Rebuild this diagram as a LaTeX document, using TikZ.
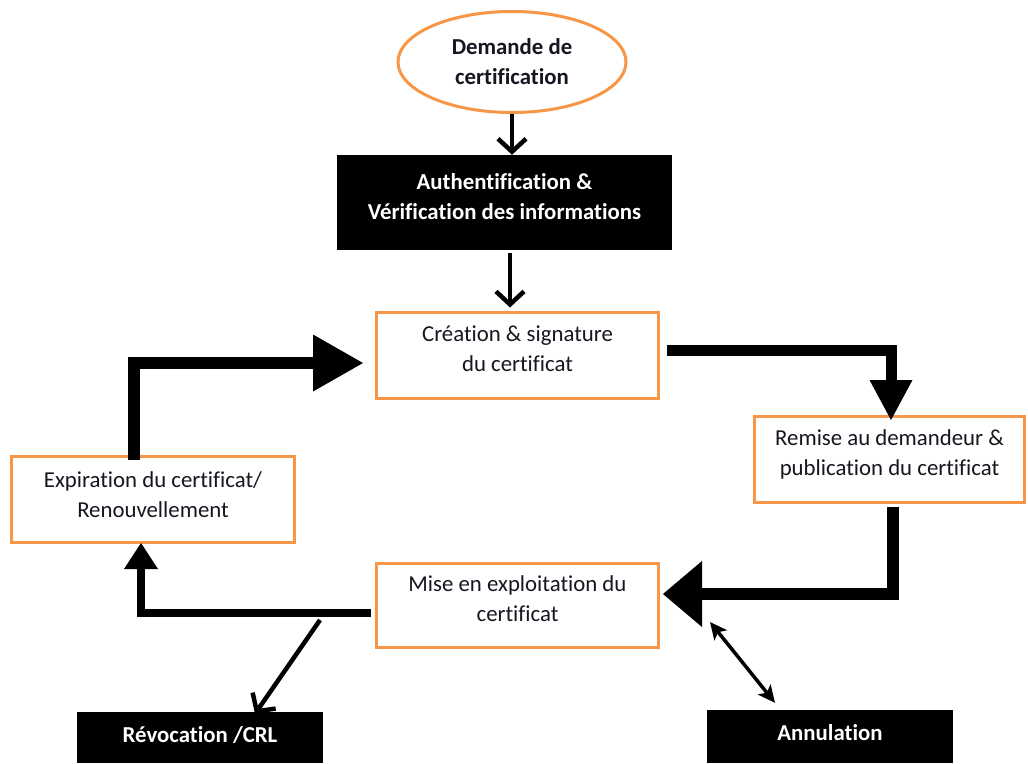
\documentclass[tikz,border=0pt]{standalone}
\usepackage{fontspec}
\setmainfont{Carlito}[Ligatures=NoCommon]
\usetikzlibrary{arrows.meta,shapes.geometric}
\definecolor{boxorange}{HTML}{F79646}
\definecolor{inktext}{HTML}{161620}
\begin{document}
\begin{tikzpicture}[x=1pt,y=-1pt,
  obox/.style={draw=boxorange,line width=3pt,fill=white,inner sep=0pt},
  bbox/.style={fill=black,inner sep=0pt},
  txt/.style={align=center,inner sep=0pt,text=inktext,font=\fontsize{22.8}{30}\selectfont},
  wtxt/.style={align=center,inner sep=0pt,text=white,font=\fontsize{22.8}{30}\selectfont\bfseries},
  btxt/.style={align=center,inner sep=0pt,text=inktext,font=\fontsize{22.8}{30}\selectfont\bfseries},
  thin/.style={line width=4.5pt,-{Straight Barb[length=13pt,width=28pt]}},
  bigflow/.style={line width=12pt,-{Triangle[length=50pt,width=57pt,line width=0pt]}},
  midflow/.style={line width=11pt,-{Triangle[length=40pt,width=43pt,line width=0pt]}},
  wideflow/.style={line width=12pt,-{Triangle[length=39pt,width=66pt,line width=0pt]}},
  smallflow/.style={line width=8pt,-{Triangle[length=26pt,width=34pt,line width=0pt]}},
  both/.style={line width=3.5pt,{Stealth[length=17pt,width=16pt,inset=4pt]}-{Stealth[length=17pt,width=16pt,inset=4pt]}}
]
\useasboundingbox (0,0) rectangle (1028,763);

% boxes
\node[ellipse,draw=boxorange,line width=3pt,inner sep=0pt,minimum width=228pt,minimum height=101pt] (dem) at (512,62) {};
\node[btxt] (demT) at (dem.center) {Demande de\\certification};

\node[bbox,minimum width=335pt,minimum height=95pt] (auth) at (504.5,202.5) {};
\node[wtxt] (authT) at ([yshift=6pt]auth.center) {Authentification \&\\Vérification des informations};

\node[obox,minimum width=282pt,minimum height=86pt] (crea) at (517.5,355) {};
\node[txt] (creaT) at ([yshift=6pt]crea.center) {Création \& signature\\du certificat};

\node[obox,minimum width=270pt,minimum height=86pt] (rem) at (889.5,459.5) {};
\node[txt] (remT) at ([yshift=5pt]rem.center) {Remise au demandeur \&\\publication du certificat};

\node[obox,minimum width=283pt,minimum height=86pt] (exp) at (153,499.5) {};
\node[txt] (expT) at ([yshift=5pt]exp.center) {Expiration du certificat/\\Renouvellement};

\node[obox,minimum width=282pt,minimum height=84pt] (mise) at (517.5,605) {};
\node[txt] (miseT) at ([yshift=6pt]mise.center) {Mise en exploitation du\\certificat};

\node[bbox,minimum width=246pt,minimum height=51pt] (rev) at (200,737.5) {};
\node[wtxt] (revT) at (200,735) {Révocation /CRL};

\node[bbox,minimum width=246pt,minimum height=53pt] (ann) at (830,736.5) {};
\node[wtxt] (annT) at (830,733) {Annulation};

% connectors
\draw[thin] (dem.south) -- (dem.south |- auth.north);
\draw[thin] ([yshift=-3pt]auth.south -| 510,0) -- ([yshift=3pt]crea.north -| 510,0);

\draw[bigflow] ([yshift=-5pt]exp.north -| 134,0) -- (134,363) -- ([xshift=-12pt]crea.west |- 0,363);
\draw[midflow] ([xshift=7pt]crea.east |- 0,350) -- (891,350) -- ([yshift=-5pt]rem.north -| 891,0);
\draw[wideflow] ([yshift=-3pt]rem.south -| 893,0) -- (893,594) -- ([xshift=3pt]mise.east |- 0,594);
\draw[smallflow] ([xshift=-4pt]mise.west |- 0,613) -- (141,613) -- ([yshift=1pt]exp.south -| 141,0);

\coordinate (revS) at (320,620);
\draw[thin] (revS) -- ([yshift=-2pt]rev.north -| 255,0);
\coordinate (annS) at (710,622);
\draw[both] (annS) -- ([yshift=7pt]ann.north -| 775,0);
\end{tikzpicture}
\end{document}
